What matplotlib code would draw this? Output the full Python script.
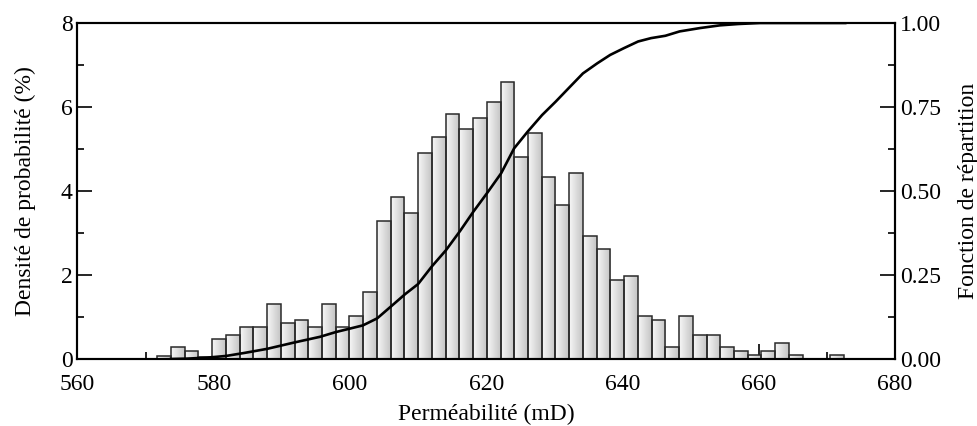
import numpy as np
import matplotlib.pyplot as plt
from matplotlib.colors import LinearSegmentedColormap

plt.rcParams['font.family'] = ['Liberation Serif', 'DejaVu Serif']

# histogram: 50 bins, 571.7 -> 672.5 mD
bin_start = 571.7
bin_width = 2.016
densite = [0.08, 0.28, 0.19, 0.05, 0.47, 0.56, 0.75, 0.75, 1.32, 0.85,
           0.94, 0.75, 1.32, 0.75, 1.03, 1.60, 3.29, 3.86, 3.48, 4.90,
           5.28, 5.84, 5.47, 5.75, 6.13, 6.60, 4.80, 5.37, 4.33, 3.67,
           4.42, 2.92, 2.63, 1.88, 1.98, 1.03, 0.94, 0.28, 1.03, 0.56,
           0.56, 0.28, 0.18, 0.10, 0.19, 0.38, 0.09, 0.0, 0.0, 0.09]

# cumulative distribution
cdf_x = [573.7, 576, 579, 581.8, 584.5, 587.8, 591.8, 595.6, 597.9, 601.9,
         604.0, 606.0, 608.1, 610.0, 612.0, 614.1, 616.2, 618.1, 620.1, 622.2,
         624.1, 626.1, 628.2, 630.2, 632.1, 634.2, 636.3, 638.2, 640.2, 642.3,
         644.2, 646.3, 648.4, 651.4, 654.3, 657, 660.2, 664, 672.7]
cdf_y = [0.0, 0.001, 0.004, 0.009, 0.018, 0.03, 0.049, 0.066, 0.08, 0.1,
         0.121, 0.156, 0.193, 0.223, 0.275, 0.324, 0.382, 0.438, 0.493, 0.553,
         0.627, 0.677, 0.726, 0.766, 0.806, 0.850, 0.880, 0.905, 0.925, 0.945,
         0.955, 0.962, 0.975, 0.985, 0.993, 0.997, 1.0, 1.0, 1.0]

fig = plt.figure(figsize=(9.77, 4.26), dpi=100)
ax = fig.add_axes([0.0793, 0.1573, 0.8367, 0.7887])

edges = bin_start + bin_width * np.arange(len(densite))
bars = ax.bar(edges, densite, width=bin_width, align='edge',
              color='none', edgecolor='#2a2a2a', linewidth=1.1, zorder=3)

# grey gradient inside each bar
cmap = LinearSegmentedColormap.from_list('g', ['#f7f7f7', '#c4c4c4'])
grad = np.linspace(0, 1, 64).reshape(1, -1)
for b, x0, h in zip(bars, edges, densite):
    if h <= 0:
        continue
    im = ax.imshow(grad, extent=[x0, x0 + bin_width, 0, h], aspect='auto',
                   cmap=cmap, zorder=2, interpolation='bilinear')
    im.set_clip_path(b)

fs = 17
ax.set_xlim(560, 680)
ax.set_ylim(0, 8)
ax.set_xticks(np.arange(560, 681, 20))
ax.set_xticks(np.arange(570, 680, 20), minor=True)
ax.set_yticks([0, 2, 4, 6, 8])
ax.set_yticks([1, 3, 5, 7], minor=True)
ax.tick_params(which='both', direction='in', labelsize=fs, width=1.2, top=False, right=False)
ax.tick_params(which='major', length=11)
ax.tick_params(which='minor', length=5)
ax.tick_params(axis='x', pad=11)
for s in ax.spines.values():
    s.set_linewidth(1.5)
ax.set_xlabel('Perméabilité (mD)', fontsize=fs, labelpad=6)
ax.set_ylabel('Densité de probabilité (%)', fontsize=fs, labelpad=18)

ax2 = ax.twinx()
ax2.plot(cdf_x, cdf_y, color='black', linewidth=1.9, zorder=4)
ax2.set_ylim(0, 1)
ax2.set_yticks([0, 0.25, 0.5, 0.75, 1.0])
ax2.set_yticks([0.125, 0.375, 0.625, 0.875], minor=True)
ax2.set_yticklabels(['0.00', '0.25', '0.50', '0.75', '1.00'])
ax2.tick_params(which='both', direction='in', labelsize=fs, width=1.2)
ax2.tick_params(which='major', length=11)
ax2.tick_params(which='minor', length=5)
for s in ax2.spines.values():
    s.set_linewidth(1.5)
ax2.set_ylabel('Fonction de répartition', fontsize=fs, labelpad=12)

fig.savefig('out.png', dpi=100)
